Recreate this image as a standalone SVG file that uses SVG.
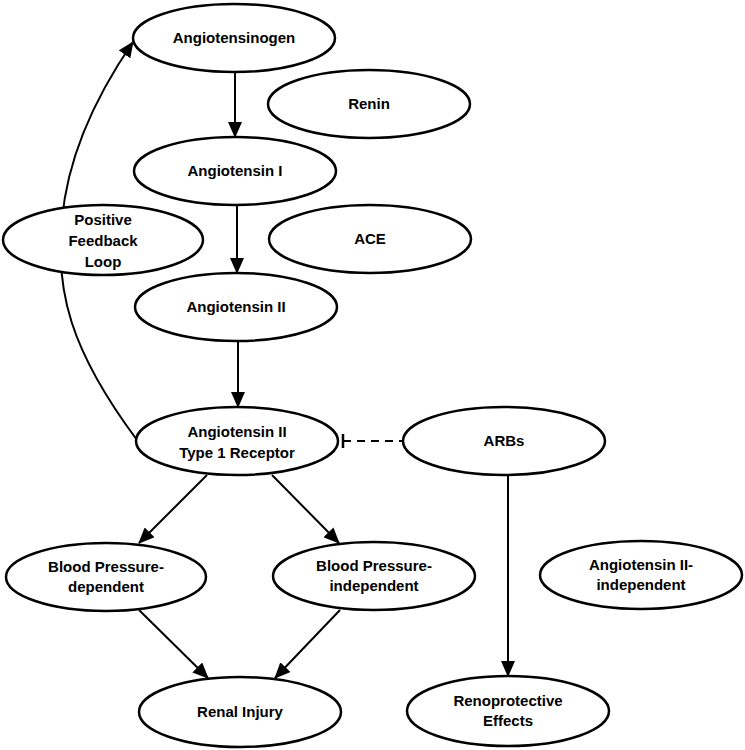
<svg xmlns="http://www.w3.org/2000/svg" width="745" height="750" viewBox="0 0 745 750">
<defs>
<marker id="arr" markerUnits="userSpaceOnUse" markerWidth="16" markerHeight="14" viewBox="0 0 16 14" refX="15" refY="7" orient="auto">
<path d="M0,0 L16,7 L0,14 Z" fill="#000"/>
</marker>
</defs>
<style>
.n ellipse{fill:#fff;stroke:#000;stroke-width:2.5}
.n text{font-family:"Liberation Sans",Arial,sans-serif;font-weight:bold;font-size:15px;text-anchor:middle;fill:#000}
.c path,.c line{fill:none;stroke:#000;stroke-width:2}
.a{marker-end:url(#arr)}
</style>
<g id="connectors" class="c">
<path class="a" d="M137,440 C70,350 55,290 62,220 C68,150 100,90 133,42"/>
<line class="a" x1="235" y1="72" x2="235" y2="137"/>
<line class="a" x1="237" y1="205" x2="237" y2="273"/>
<line class="a" x1="238" y1="341" x2="238" y2="407"/>
<line x1="343" y1="441" x2="403" y2="441" stroke-dasharray="8,6"/>
<line x1="343" y1="434" x2="343" y2="448" style="stroke-width:2.5"/>
<line class="a" x1="207" y1="475" x2="139" y2="543"/>
<line class="a" x1="272" y1="475" x2="339" y2="543"/>
<line class="a" x1="139" y1="610" x2="208" y2="678"/>
<line class="a" x1="340" y1="610" x2="275" y2="678"/>
<line class="a" x1="508" y1="475" x2="508" y2="676"/>
</g>
<g id="angiotensinogen" class="n"><ellipse cx="234" cy="38" rx="101" ry="34"/><text x="234" y="43">Angiotensinogen</text></g>
<g id="renin" class="n"><ellipse cx="369" cy="104" rx="101" ry="34"/><text x="369" y="109">Renin</text></g>
<g id="angiotensin1" class="n"><ellipse cx="235" cy="171" rx="101" ry="34"/><text x="235" y="176">Angiotensin I</text></g>
<g id="feedback" class="n"><ellipse cx="103" cy="240" rx="100" ry="35"/><text x="103" y="225">Positive</text><text x="103" y="246">Feedback</text><text x="103" y="267">Loop</text></g>
<g id="ace" class="n"><ellipse cx="370" cy="239" rx="101" ry="34"/><text x="370" y="244">ACE</text></g>
<g id="angiotensin2" class="n"><ellipse cx="236" cy="307" rx="101" ry="34"/><text x="236" y="312">Angiotensin II</text></g>
<g id="at1r" class="n"><ellipse cx="237" cy="441" rx="101" ry="34"/><text x="237" y="437">Angiotensin II</text><text x="237" y="458">Type 1 Receptor</text></g>
<g id="arbs" class="n"><ellipse cx="504" cy="441" rx="101" ry="34"/><text x="504" y="446">ARBs</text></g>
<g id="bpdep" class="n"><ellipse cx="106" cy="577" rx="100" ry="34"/><text x="106" y="572">Blood Pressure-</text><text x="106" y="592">dependent</text></g>
<g id="bpindep" class="n"><ellipse cx="374" cy="576" rx="101" ry="34"/><text x="374" y="571">Blood Pressure-</text><text x="374" y="591">independent</text></g>
<g id="a2indep" class="n"><ellipse cx="641" cy="575" rx="101" ry="34"/><text x="641" y="570">Angiotensin II-</text><text x="641" y="590">independent</text></g>
<g id="renal" class="n"><ellipse cx="240" cy="712" rx="101" ry="35"/><text x="240" y="717">Renal Injury</text></g>
<g id="renoprotective" class="n"><ellipse cx="508" cy="711" rx="101" ry="35"/><text x="508" y="706">Renoprotective</text><text x="508" y="726">Effects</text></g>
</svg>
